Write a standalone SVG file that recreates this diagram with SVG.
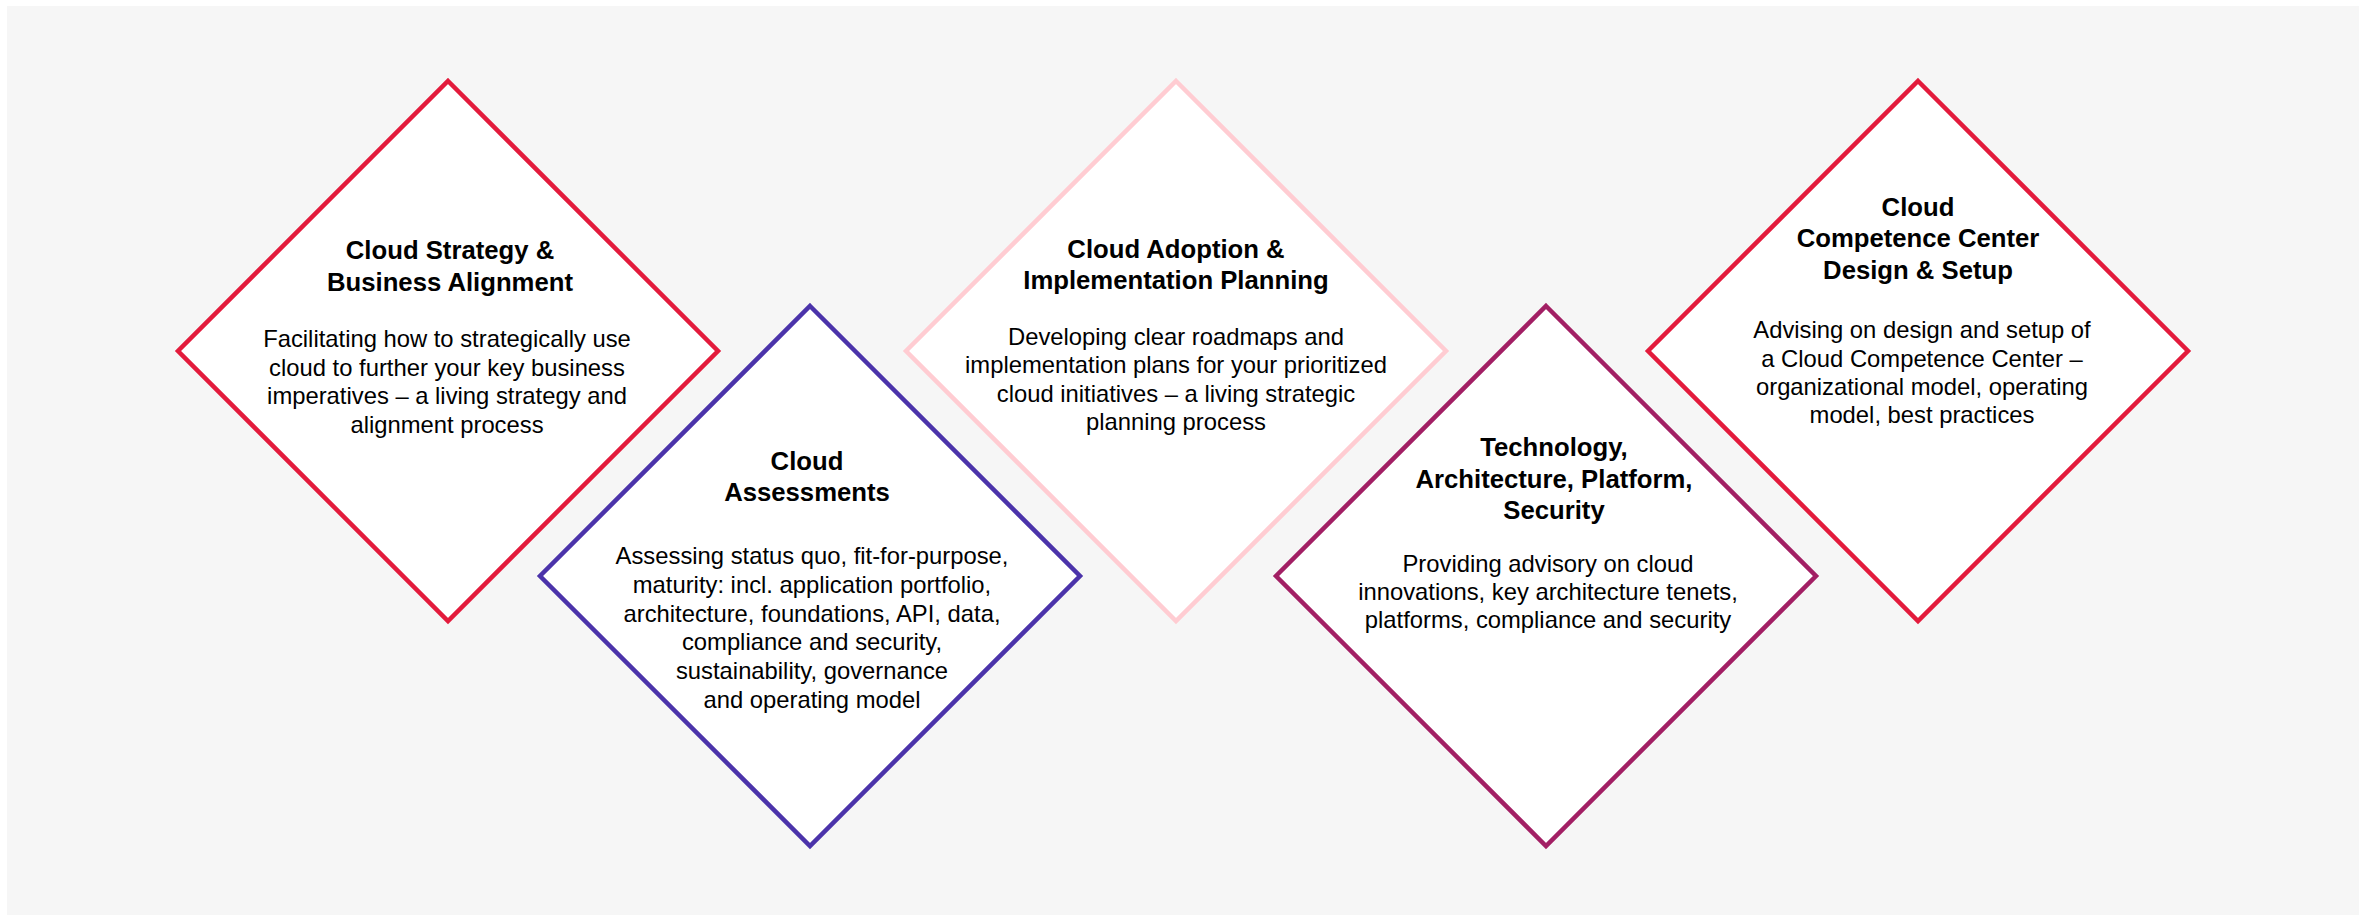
<svg xmlns="http://www.w3.org/2000/svg" width="2365" height="915" viewBox="0 0 2365 915">
<style>
.bg{fill:#f6f6f6}
.d{fill:#ffffff;stroke-width:4.5;stroke-linejoin:miter}
.red{stroke:#e31b3c}
.purple{stroke:#4b33aa}
.pink{stroke:#ffccd2}
.plum{stroke:#a21f64}
text{font-family:"Liberation Sans",Arial,Helvetica,sans-serif;fill:#000;text-anchor:middle}
.t{font-weight:bold;font-size:25.7px}
.b{font-size:23.8px}
</style>
<rect width="2365" height="915" fill="#ffffff"/>
<rect class="bg" x="7" y="6" width="2352" height="909"/>
<g id="connectors"></g>
<g id="node-strategy">
<polygon class="d red" points="448,81 718,351 448,621 178,351"/>
<text class="t" x="450" y="259">Cloud Strategy &amp;</text>
<text class="t" x="450" y="290.5">Business Alignment</text>
<text class="b" x="447" y="347">Facilitating how to strategically use</text>
<text class="b" x="447" y="375.5">cloud to further your key business</text>
<text class="b" x="447" y="404">imperatives – a living strategy and</text>
<text class="b" x="447" y="432.5">alignment process</text>
</g>
<g id="node-assessments">
<polygon class="d purple" points="810,306 1080,576 810,846 540,576"/>
<text class="t" x="807" y="469.5">Cloud</text>
<text class="t" x="807" y="500.8">Assessments</text>
<text class="b" x="812" y="564.2">Assessing status quo, fit-for-purpose,</text>
<text class="b" x="812" y="592.9">maturity: incl. application portfolio,</text>
<text class="b" x="812" y="621.6">architecture, foundations, API, data,</text>
<text class="b" x="812" y="650.3">compliance and security,</text>
<text class="b" x="812" y="679">sustainability, governance</text>
<text class="b" x="812" y="707.7">and operating model</text>
</g>
<g id="node-adoption">
<polygon class="d pink" points="1176,81 1446,351 1176,621 906,351"/>
<text class="t" x="1176" y="257.5">Cloud Adoption &amp;</text>
<text class="t" x="1176" y="289.3">Implementation Planning</text>
<text class="b" x="1176" y="345">Developing clear roadmaps and</text>
<text class="b" x="1176" y="373.4">implementation plans for your prioritized</text>
<text class="b" x="1176" y="401.8">cloud initiatives – a living strategic</text>
<text class="b" x="1176" y="430.2">planning process</text>
</g>
<g id="node-technology">
<polygon class="d plum" points="1546,306 1816,576 1546,846 1276,576"/>
<text class="t" x="1554" y="455.7">Technology,</text>
<text class="t" x="1554" y="487.5">Architecture, Platform,</text>
<text class="t" x="1554" y="519">Security</text>
<text class="b" x="1548" y="571.7">Providing advisory on cloud</text>
<text class="b" x="1548" y="600">innovations, key architecture tenets,</text>
<text class="b" x="1548" y="628.3">platforms, compliance and security</text>
</g>
<g id="node-competence">
<polygon class="d red" points="1918,81 2188,351 1918,621 1648,351"/>
<text class="t" x="1918" y="215.7">Cloud</text>
<text class="t" x="1918" y="247.3">Competence Center</text>
<text class="t" x="1918" y="278.6">Design &amp; Setup</text>
<text class="b" x="1922" y="338.3">Advising on design and setup of</text>
<text class="b" x="1922" y="366.6">a Cloud Competence Center –</text>
<text class="b" x="1922" y="394.9">organizational model, operating</text>
<text class="b" x="1922" y="423.2">model, best practices</text>
</g>
</svg>
